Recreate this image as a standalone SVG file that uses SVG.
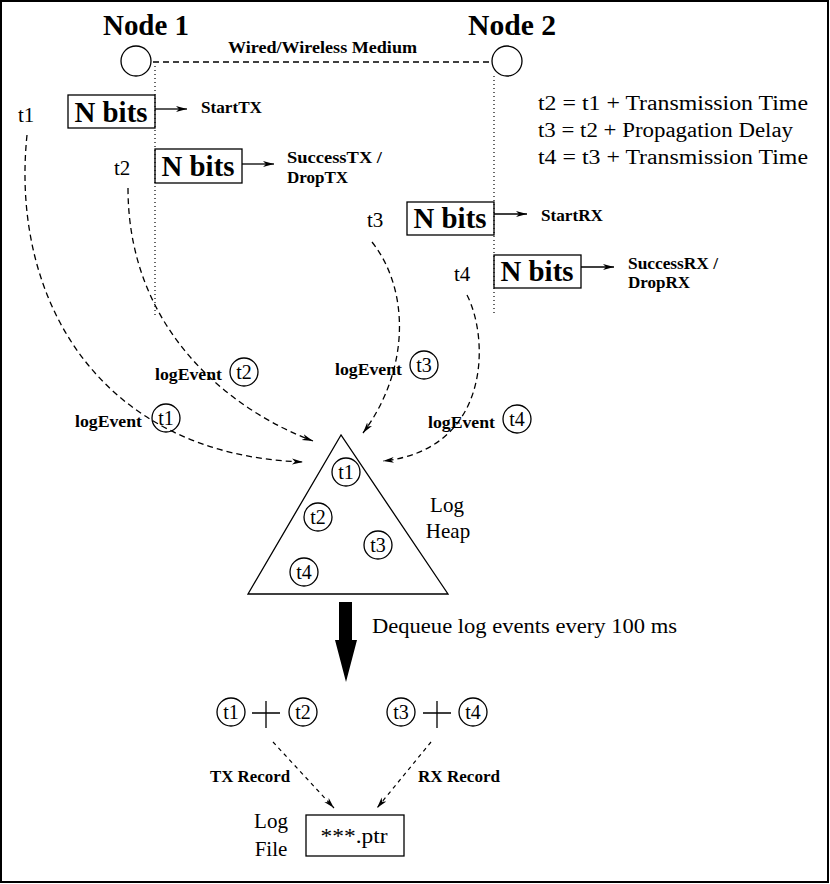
<svg xmlns="http://www.w3.org/2000/svg" width="830" height="884" viewBox="0 0 830 884">
<style>
  .ser { font-family: "Liberation Serif", "DejaVu Serif", serif; fill: #000; }
  .node { font-size: 30px; font-weight: bold; }
  .nbits { font-size: 30px; font-weight: bold; }
  .small { font-size: 17px; font-weight: bold; }
  .tlab { font-size: 21px; }
  .eq { font-size: 20px; }
  .cl { font-size: 20px; }
  .line { fill: none; stroke: #000; stroke-width: 1.3; }
  .dash { fill: none; stroke: #000; stroke-width: 1.3; stroke-dasharray: 6 4; }
  .dash2 { fill: none; stroke: #000; stroke-width: 1.2; stroke-dasharray: 4 4; }
  .dot { fill: none; stroke: #000; stroke-width: 1.2; stroke-dasharray: 1 3; }
  .circ { fill: none; stroke: #000; stroke-width: 1.3; }
</style>
<defs>
  <marker id="ah" markerWidth="12" markerHeight="8" refX="11" refY="4" orient="auto" markerUnits="userSpaceOnUse">
    <path d="M0,1 L11,4 L0,7 L3,4 z" fill="#000"/>
  </marker>
</defs>
<rect x="1" y="1" width="827" height="881" fill="#fff" stroke="#000" stroke-width="2"/>

<g id="node1">
  <text class="ser node" x="146" y="35" text-anchor="middle" textLength="86" lengthAdjust="spacingAndGlyphs">Node 1</text>
  <circle class="circ" cx="136" cy="61" r="15"/>
</g>
<g id="node2">
  <text class="ser node" x="512" y="35" text-anchor="middle" textLength="88" lengthAdjust="spacingAndGlyphs">Node 2</text>
  <circle class="circ" cx="507" cy="61" r="15"/>
</g>
<g id="medium">
  <text class="ser small" x="228" y="53" textLength="189" lengthAdjust="spacingAndGlyphs">Wired/Wireless Medium</text>
</g>

<g id="equations">
  <text class="ser eq" x="538" y="110" textLength="270" lengthAdjust="spacingAndGlyphs">t2 = t1 + Transmission Time</text>
  <text class="ser eq" x="538" y="137" textLength="255" lengthAdjust="spacingAndGlyphs">t3 = t2 + Propagation Delay</text>
  <text class="ser eq" x="538" y="164" textLength="270" lengthAdjust="spacingAndGlyphs">t4 = t3 + Transmission Time</text>
</g>

<g id="box1">
  <text class="ser tlab" x="18" y="122">t1</text>
  <rect class="line" x="68" y="95" width="87" height="33"/>
  <text class="ser nbits" x="111" y="122" text-anchor="middle" textLength="73" lengthAdjust="spacingAndGlyphs">N bits</text>
  <text class="ser small" x="201" y="113" textLength="61" lengthAdjust="spacingAndGlyphs">StartTX</text>
</g>
<g id="box2">
  <text class="ser tlab" x="114" y="175">t2</text>
  <rect class="line" x="155" y="149" width="87" height="34"/>
  <text class="ser nbits" x="198" y="176" text-anchor="middle" textLength="73" lengthAdjust="spacingAndGlyphs">N bits</text>
  <text class="ser small" x="287" y="163" textLength="95" lengthAdjust="spacingAndGlyphs">SuccessTX /</text>
  <text class="ser small" x="287" y="183">DropTX</text>
</g>
<g id="box3">
  <text class="ser tlab" x="367" y="227">t3</text>
  <rect class="line" x="407" y="202" width="87" height="33"/>
  <text class="ser nbits" x="450" y="228" text-anchor="middle" textLength="73" lengthAdjust="spacingAndGlyphs">N bits</text>
  <text class="ser small" x="541" y="221" textLength="62" lengthAdjust="spacingAndGlyphs">StartRX</text>
</g>
<g id="box4">
  <text class="ser tlab" x="454" y="281">t4</text>
  <rect class="line" x="494" y="255" width="87" height="33"/>
  <text class="ser nbits" x="537" y="281" text-anchor="middle" textLength="73" lengthAdjust="spacingAndGlyphs">N bits</text>
  <text class="ser small" x="628" y="269" textLength="90" lengthAdjust="spacingAndGlyphs">SuccessRX /</text>
  <text class="ser small" x="628" y="288">DropRX</text>
</g>

<g id="loglabels">
  <text class="ser small" x="75" y="427" textLength="67" lengthAdjust="spacingAndGlyphs">logEvent</text>
  <circle class="circ" cx="166" cy="418" r="14"/>
  <text class="ser cl" x="166" y="425" text-anchor="middle">t1</text>
  <text class="ser small" x="155" y="380" textLength="67" lengthAdjust="spacingAndGlyphs">logEvent</text>
  <circle class="circ" cx="244" cy="372" r="14"/>
  <text class="ser cl" x="244" y="379" text-anchor="middle">t2</text>
  <text class="ser small" x="335" y="375" textLength="67" lengthAdjust="spacingAndGlyphs">logEvent</text>
  <circle class="circ" cx="424" cy="365" r="14"/>
  <text class="ser cl" x="424" y="372" text-anchor="middle">t3</text>
  <text class="ser small" x="428" y="428" textLength="67" lengthAdjust="spacingAndGlyphs">logEvent</text>
  <circle class="circ" cx="517" cy="419" r="14"/>
  <text class="ser cl" x="517" y="426" text-anchor="middle">t4</text>
</g>

<g id="heap">
  <polygon class="line" points="341,435 248,594 448,594"/>
  <circle class="circ" cx="346" cy="472" r="14"/>
  <text class="ser cl" x="346" y="479" text-anchor="middle">t1</text>
  <circle class="circ" cx="318" cy="517" r="14"/>
  <text class="ser cl" x="318" y="524" text-anchor="middle">t2</text>
  <circle class="circ" cx="378" cy="545" r="14"/>
  <text class="ser cl" x="378" y="552" text-anchor="middle">t3</text>
  <circle class="circ" cx="304" cy="572" r="14"/>
  <text class="ser cl" x="304" y="579" text-anchor="middle">t4</text>
  <text class="ser tlab" x="447" y="512" text-anchor="middle">Log</text>
  <text class="ser tlab" x="448" y="538" text-anchor="middle">Heap</text>
</g>

<g id="dequeue">
  <polygon points="339,602 352,602 352,640 357,640 346,682 335,640 339,640" fill="#000"/>
  <text class="ser eq" x="372" y="633" textLength="305" lengthAdjust="spacingAndGlyphs">Dequeue log events every 100 ms</text>
</g>

<g id="records">
  <circle class="circ" cx="231" cy="712" r="14"/>
  <text class="ser cl" x="231" y="719" text-anchor="middle">t1</text>
  <path class="line" d="M252,713 H280 M266,701 V728"/>
  <circle class="circ" cx="303" cy="712" r="14"/>
  <text class="ser cl" x="303" y="719" text-anchor="middle">t2</text>
  <circle class="circ" cx="401" cy="712" r="14"/>
  <text class="ser cl" x="401" y="719" text-anchor="middle">t3</text>
  <path class="line" d="M423,713 H451 M437,701 V728"/>
  <circle class="circ" cx="473" cy="712" r="14"/>
  <text class="ser cl" x="473" y="719" text-anchor="middle">t4</text>
  <text class="ser small" x="210" y="782" textLength="80" lengthAdjust="spacingAndGlyphs">TX Record</text>
  <text class="ser small" x="418" y="782" textLength="82" lengthAdjust="spacingAndGlyphs">RX Record</text>
</g>

<g id="logfile">
  <text class="ser tlab" x="271" y="828" text-anchor="middle">Log</text>
  <text class="ser tlab" x="271" y="856" text-anchor="middle">File</text>
  <rect class="line" x="306" y="815" width="98" height="41"/>
  <text class="ser eq" x="354" y="843" text-anchor="middle" textLength="67" lengthAdjust="spacingAndGlyphs">***.ptr</text>
</g>

<g id="connectors">
  <line class="dash" x1="153" y1="62" x2="492" y2="62" stroke-dasharray="7 4"/>
  <line class="dot" x1="155" y1="66" x2="155" y2="315"/>
  <line class="dot" x1="494" y1="76" x2="494" y2="315"/>
  <line class="line" x1="155" y1="109" x2="187" y2="109" marker-end="url(#ah)"/>
  <line class="line" x1="242" y1="164" x2="274" y2="164" marker-end="url(#ah)"/>
  <line class="line" x1="494" y1="214" x2="527" y2="214" marker-end="url(#ah)"/>
  <line class="line" x1="581" y1="267" x2="614" y2="267" marker-end="url(#ah)"/>
  <path class="dash" d="M27,135 C10,300 100,455 303,462" marker-end="url(#ah)"/>
  <path class="dash" d="M128,188 C128,330 230,410 313,441" marker-end="url(#ah)"/>
  <path class="dash" d="M372,242 C410,290 410,370 363,433" marker-end="url(#ah)"/>
  <path class="dash" d="M467,295 C490,340 490,450 383,461" marker-end="url(#ah)"/>
  <line class="dash2" x1="273" y1="742" x2="334" y2="808" marker-end="url(#ah)"/>
  <line class="dash2" x1="431" y1="742" x2="377" y2="808" marker-end="url(#ah)"/>
</g>
</svg>
